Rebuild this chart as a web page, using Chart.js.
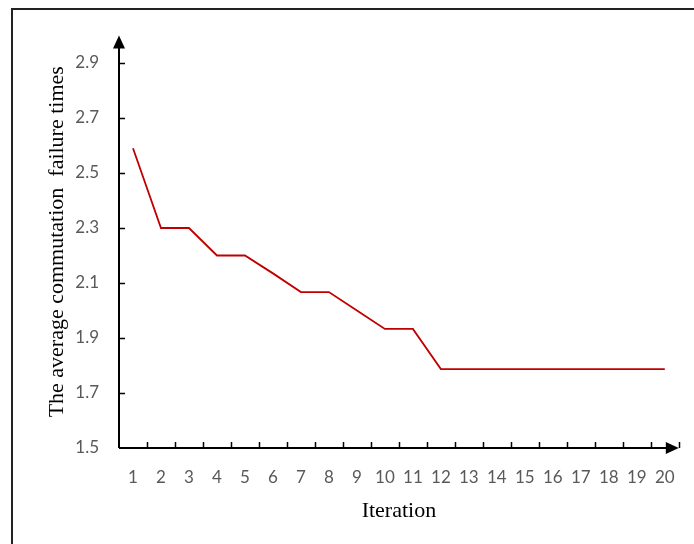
<!DOCTYPE html>
<html lang="en">
<head>
    <meta charset="UTF-8">
    <title>Average commutation failure times</title>
    <style>
        html, body {
            margin: 0;
            padding: 0;
            background: #fff;
            overflow: hidden;
        }
        .wrap {
            position: relative;
            width: 694px;
            height: 544px;
        }
        /* frame: only top and left edges fall inside the picture */
        .frame {
            position: absolute;
            left: 11px;
            top: 8px;
            width: 700px;
            height: 560px;
            border-left: 2px solid #222;
            border-top: 2px solid #222;
        }
        canvas {
            position: absolute;
            left: 0;
            top: 0;
        }
    </style>
</head>
<body>
<div class="wrap">
    <div class="frame"></div>
    <canvas id="chart" width="694" height="544"></canvas>
</div>
<script src="https://cdn.jsdelivr.net/npm/chart.js"></script>
<script>
    // data
    const iterations = ['1', '2', '3', '4', '5', '6', '7', '8', '9', '10',
        '11', '12', '13', '14', '15', '16', '17', '18', '19', '20'];
    const failureTimes = [2.59, 2.30, 2.30, 2.20, 2.20, 2.135, 2.067, 2.067, 2.0, 1.933,
        1.933, 1.787, 1.787, 1.787, 1.787, 1.787, 1.787, 1.787, 1.787, 1.787];
    const yTicks = [1.5, 1.7, 1.9, 2.1, 2.3, 2.5, 2.7, 2.9];
    const yMin = 1.5;
    const yMax = 3.0;

    const AREA = { left: 119, right: 680, top: 35.5, bottom: 448 };

    // axis lines, arrow heads and inside tick marks, Excel style
    const axesPlugin = {
        id: 'excelAxes',
        afterDatasetsDraw(chart) {
            const ctx = chart.ctx;
            const x = chart.scales.x;
            const y = chart.scales.y;
            const x0 = x.left, x1 = x.right;
            const yb = y.bottom, yt = y.top;
            ctx.save();
            ctx.strokeStyle = '#000';
            ctx.fillStyle = '#000';
            ctx.lineWidth = 2;
            ctx.beginPath();
            ctx.moveTo(x0, yb);
            ctx.lineTo(x1 - 6, yb);
            ctx.moveTo(x0, yb);
            ctx.lineTo(x0, yt + 6);
            ctx.stroke();

            // tick marks
            ctx.lineWidth = 1.5;
            ctx.beginPath();
            yTicks.forEach(v => {
                if (v === yMin) return;
                const py = Math.round(y.getPixelForValue(v)) + 0.5;
                ctx.moveTo(x0, py);
                ctx.lineTo(x0 + 6, py);
            });
            for (let i = 1; i <= iterations.length; i++) {
                const px = Math.round(x.getPixelForValue(i - 0.5)) + 0.5;
                ctx.moveTo(px, yb);
                ctx.lineTo(px, yb - 6);
            }
            ctx.stroke();

            // arrow heads
            ctx.beginPath();
            ctx.moveTo(x0, yt);
            ctx.lineTo(x0 - 6, yt + 13);
            ctx.lineTo(x0 + 6, yt + 13);
            ctx.closePath();
            ctx.fill();
            ctx.beginPath();
            ctx.moveTo(x1, yb);
            ctx.lineTo(x1 - 13, yb - 6);
            ctx.lineTo(x1 - 13, yb + 6);
            ctx.closePath();
            ctx.fill();
            ctx.restore();
        }
    };

    const tickFont = { family: 'Lato', size: 17 };
    const titleFont = { family: 'Liberation Serif', size: 22 };

    new Chart(document.getElementById('chart'), {
        type: 'line',
        data: {
            labels: iterations,
            datasets: [{
                data: failureTimes,
                borderColor: '#C00000',
                borderWidth: 1.8,
                pointRadius: 0,
                tension: 0,
                fill: false
            }]
        },
        options: {
            responsive: false,
            animation: false,
            events: [],
            layout: {
                padding: { left: 0, right: 694 - AREA.right, top: AREA.top, bottom: 0 }
            },
            plugins: {
                legend: { display: false },
                tooltip: { enabled: false }
            },
            scales: {
                x: {
                    type: 'category',
                    offset: true,
                    border: { display: false },
                    grid: { display: false, drawTicks: false },
                    ticks: {
                        color: '#595959',
                        font: tickFont,
                        padding: 19,
                        maxRotation: 0,
                        autoSkip: false
                    },
                    title: {
                        display: true,
                        text: 'Iteration',
                        color: '#000',
                        font: titleFont,
                        padding: { top: 0, bottom: 20 }
                    },
                    afterFit(scale) {
                        scale.height = 544 - AREA.bottom;
                    }
                },
                y: {
                    min: yMin,
                    max: yMax,
                    border: { display: false },
                    grid: { display: false, drawTicks: false },
                    afterBuildTicks(scale) {
                        scale.ticks = yTicks.map(v => ({ value: v }));
                    },
                    ticks: {
                        color: '#595959',
                        font: tickFont,
                        padding: 20,
                        callback: v => v.toFixed(1)
                    },
                    title: {
                        display: true,
                        text: 'The average commutation  failure times',
                        color: '#000',
                        font: titleFont,
                        padding: { top: 44, bottom: 0 }
                    },
                    afterFit(scale) {
                        scale.width = AREA.left;
                    }
                }
            }
        },
        plugins: [axesPlugin]
    });
</script>
</body>
</html>
